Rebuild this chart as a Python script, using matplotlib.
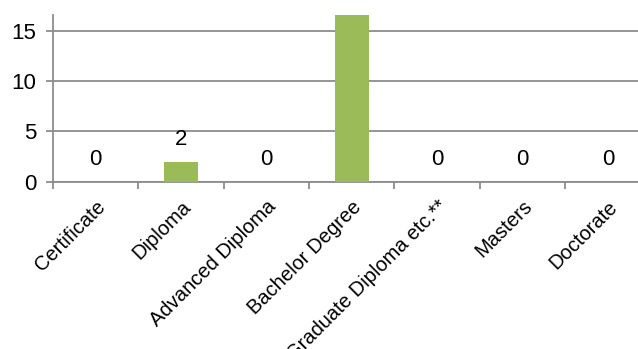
import matplotlib.pyplot as plt
import numpy as np

categories = [
    "Certificate",
    "Diploma",
    "Advanced Diploma",
    "Bachelor Degree",
    "Graduate Diploma etc.**",
    "Masters",
    "Doctorate",
]
counts = [0, 2, 0, 17, 0, 0, 0]
# the top of the Bachelor bar (and its label) is cut off in the source
show_label = [True, True, True, False, True, True, True]

plt.rcParams["font.family"] = ["Liberation Sans", "DejaVu Sans"]

fig = plt.figure(figsize=(6.38, 3.49), dpi=100)
ax = fig.add_axes([0.0829, 0.4794, 0.937, 0.4777])

xs = np.arange(len(categories))
ax.bar(xs, counts, width=0.4, color="#9BBB59", zorder=3)

for x, v, show in zip(xs, counts, show_label):
    if show:
        ax.annotate(str(v), (x, v), xytext=(0, 16), textcoords="offset points",
                    ha="center", va="center", fontsize=16, color="black")

ax.set_xlim(-0.5, len(categories) - 0.5)
ax.set_ylim(0, 16.55)
ax.set_yticks([0, 5, 10, 15])
ax.yaxis.grid(True, color="#8c8c8c", linewidth=1.3, zorder=0)

ax.set_xticks(xs)
ax.set_xticklabels(categories, rotation=45, ha="right", rotation_mode="anchor", fontsize=14.5)
ax.set_xticks(np.arange(-0.5, len(categories)), minor=True)
ax.tick_params(axis="x", which="major", length=0, pad=11)
ax.tick_params(axis="x", which="minor", length=5, width=1.3, color="#8c8c8c")
ax.tick_params(axis="y", length=5, width=1.3, color="#8c8c8c", labelsize=16, pad=7)

for side in ["top", "right"]:
    ax.spines[side].set_visible(False)
for side in ["left", "bottom"]:
    ax.spines[side].set_color("#8c8c8c")
    ax.spines[side].set_linewidth(1.3)

fig.savefig("out.png", dpi=100)
